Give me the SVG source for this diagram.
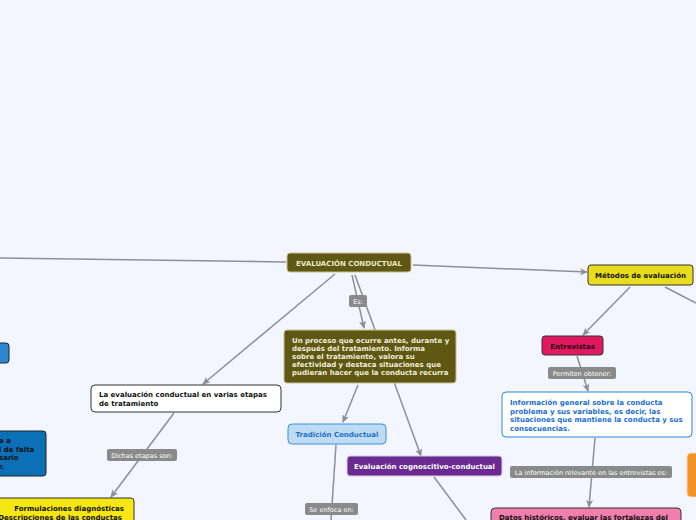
<svg xmlns="http://www.w3.org/2000/svg" width="696" height="520" viewBox="0 0 696 520">
<defs>
<marker id="ar" markerWidth="8" markerHeight="8" refX="7" refY="4" orient="auto" markerUnits="userSpaceOnUse">
<path d="M0,0.5 L8,4 L0,7.5 L2,4 z" fill="#8c8f99"/>
</marker>
<style>
.c{stroke:#8c8f99;stroke-width:1.5;fill:none}
.ca{stroke:#8c8f99;stroke-width:1.5;fill:none;marker-end:url(#ar)}
.b{font-family:"DejaVu Sans",Verdana,sans-serif;font-weight:bold;font-size:7px}
.lb{fill:#8a8a8a;rx:2}
.lt{font-family:"DejaVu Sans",Verdana,sans-serif;font-size:6.5px;fill:#ffffff;text-anchor:middle}
.m{text-anchor:middle}
</style>
</defs>
<rect x="0" y="0" width="696" height="520" fill="#f3f6fe"/>
<g id="connectors">
<path class="c" d="M0,258 L286,262"/>
<path class="ca" d="M413,265 L587,272"/>
<path class="ca" d="M630,287 L583,335"/>
<path class="c" d="M665,287 L696,303"/>
<path class="ca" d="M577,356 L588,391"/>
<path class="ca" d="M595,438 L589,507"/>
<path class="ca" d="M335,274 L203,384"/>
<path class="ca" d="M352,275 L364,328"/>
<path class="ca" d="M355,275 L421,456"/>
<path class="ca" d="M358,385 L343,422"/>
<path class="ca" d="M174,413 L111,497"/>
<path class="c" d="M336,445 L331,520"/>
<path class="c" d="M434,477 L466,520"/>
<rect class="lb" x="349" y="295" width="18" height="12"/>
<text class="lt" x="358" y="303.5">Es:</text>
<rect class="lb" x="548" y="367" width="68" height="12"/>
<text class="lt" x="582" y="375.5">Permiten obtener:</text>
<rect class="lb" x="510" y="466" width="162" height="12"/>
<text class="lt" x="591" y="474.5">La información relevante en las entrevistas es:</text>
<rect class="lb" x="107" y="449" width="70" height="12"/>
<text class="lt" x="142" y="457.5">Dichas etapas son:</text>
<rect class="lb" x="305" y="503" width="53" height="12"/>
<text class="lt" x="331.5" y="511.5">Se enfoca en:</text>
</g>
<g id="n-evaluacion">
<rect x="287" y="253" width="124" height="19" rx="3" fill="#5f5714" stroke="#c9c28f"/>
<text class="b m" x="349" y="265.5" fill="#ebe8c8">EVALUACIÓN CONDUCTUAL</text>
</g>
<g id="n-metodos">
<rect x="588" y="265" width="105" height="20" rx="3" fill="#e8dc1c" stroke="#333"/>
<text class="b m" x="640.5" y="277.5" fill="#111">Métodos de evaluación</text>
</g>
<g id="n-entrevistas">
<rect x="542" y="336" width="61" height="19" rx="3" fill="#e0195f" stroke="#333"/>
<text class="b m" x="572.5" y="348.5" fill="#1a0a10">Entrevistas</text>
</g>
<g id="n-info">
<rect x="502" y="392" width="190" height="45" rx="4" fill="#ffffff" stroke="#2a86e0"/>
<text class="b" fill="#1a6fd0"><tspan x="510" y="405">Información general sobre la conducta</tspan><tspan x="510" y="413.5">problema y sus variables, es decir, las</tspan><tspan x="510" y="422">situaciones que mantiene la conducta y sus</tspan><tspan x="510" y="430.5">consecuencias.</tspan></text>
</g>
<g id="n-datos">
<rect x="491" y="508" width="190" height="30" rx="4" fill="#f07fae" stroke="#333"/>
<text class="b" x="499" y="520" fill="#111">Datos históricos, evaluar las fortalezas del</text>
</g>
<g id="n-orange">
<rect x="687" y="453" width="20" height="44" rx="4" fill="#f59322" stroke="#f3d9b8"/>
</g>
<g id="n-proceso">
<rect x="284" y="330" width="172" height="53" rx="3" fill="#5f5714" stroke="#c9c28f"/>
<text class="b" fill="#f0eed8"><tspan x="292" y="343">Un proceso que ocurre antes, durante y</tspan><tspan x="292" y="351">después del tratamiento. Informa</tspan><tspan x="292" y="359">sobre el tratamiento, valora su</tspan><tspan x="292" y="367">efectividad y destaca situaciones que</tspan><tspan x="292" y="375">pudieran hacer que la conducta recurra</tspan></text>
</g>
<g id="n-etapas">
<rect x="91" y="385" width="190" height="27" rx="4" fill="#ffffff" stroke="#333"/>
<text class="b" fill="#111"><tspan x="99" y="396.5">La evaluación conductual en varias etapas</tspan><tspan x="99" y="405.5">de tratamiento</tspan></text>
</g>
<g id="n-tradicion">
<rect x="288" y="424" width="98" height="20" rx="4" fill="#bfdcf5" stroke="#3a8ee0"/>
<text class="b m" x="337" y="436.5" fill="#1f6fc8">Tradición Conductual</text>
</g>
<g id="n-cognoscitivo">
<rect x="347" y="456" width="155" height="20" rx="3" fill="#6a2a8f" stroke="#d8cce6"/>
<text class="b m" x="424.5" y="468.5" fill="#ffffff">Evaluación cognoscitivo-conductual</text>
</g>
<g id="n-left-blue">
<rect x="-20" y="343" width="29" height="20" rx="3" fill="#2d86d0" stroke="#222"/>
</g>
<g id="n-left-darkblue">
<rect x="-60" y="431" width="106" height="45" rx="3" fill="#0b70b5" stroke="#222"/>
<text class="b" fill="#111"><tspan x="-1" y="443">a a</tspan><tspan x="-1" y="451.5">l de falta</tspan><tspan x="-1" y="460">sario</tspan><tspan x="-1" y="468.5">r.</tspan></text>
</g>
<g id="n-left-yellow">
<rect x="-60" y="498" width="194" height="40" rx="3" fill="#f5e614" stroke="#333"/>
<text class="b" fill="#111" text-anchor="end"><tspan x="124" y="511">Formulaciones diagnósticas</tspan><tspan x="122" y="519.5">Descripciones de las conductas</tspan></text>
</g>
</svg>
